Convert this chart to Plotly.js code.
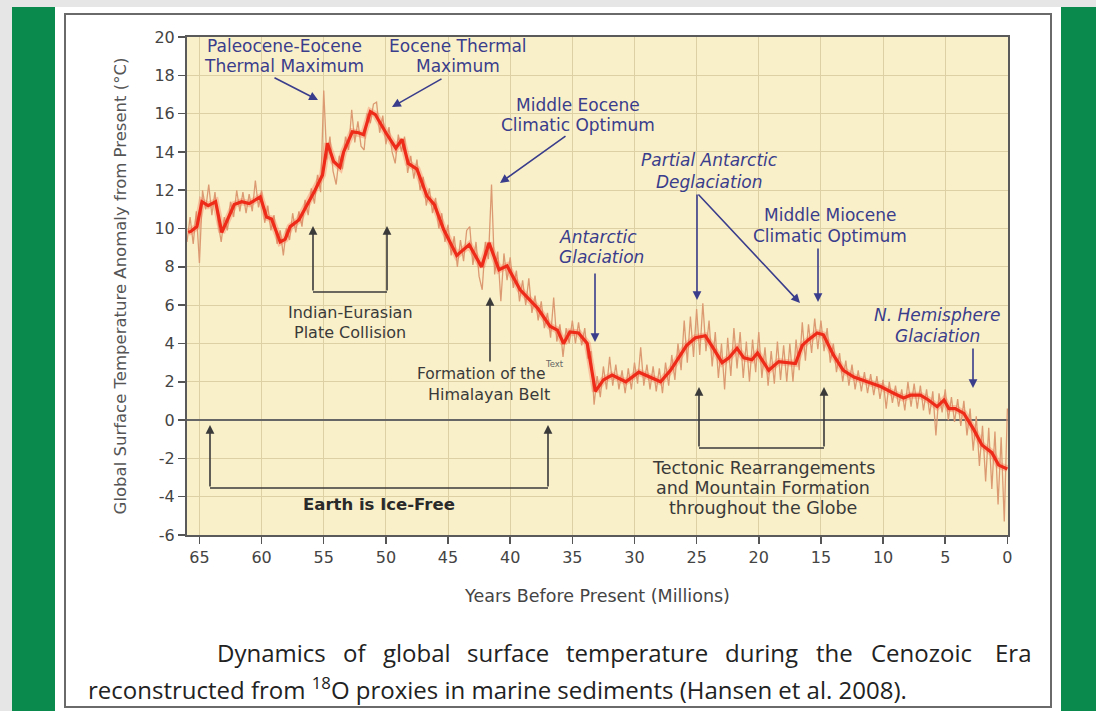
<!DOCTYPE html>
<html>
<head>
<meta charset="utf-8">
<script src="https://cdn.plot.ly/plotly-3.0.1.min.js"></script>
<style>
html,body{margin:0;padding:0;background:#ffffff;overflow:hidden;}
#chart{width:1096px;height:711px;}
</style>
</head>
<body>
<div id="chart"></div>
<script>
// ---------- data ----------
// smoothed curve (thick red line): age in Myr before present, temperature anomaly in °C
const ageSmooth = [65.9,65.7,65.2,64.8,64.3,63.7,63.2,62.2,61.6,61.0,60.1,59.6,59.2,58.5,58.1,57.7,57.0,56.3,55.7,55.1,54.7,54.2,53.7,53.4,52.7,52.2,51.8,51.25,50.85,50.0,49.2,48.7,48.2,47.5,46.7,46.1,45.35,44.3,43.3,42.3,41.7,40.9,40.25,39.2,37.8,36.8,36.2,35.7,35.2,34.5,33.8,33.15,32.5,31.8,30.7,29.65,28.7,27.9,27.1,26.3,25.8,25.1,24.3,23.75,22.95,22.4,21.75,21.2,20.55,20.1,19.2,18.4,17.7,17.05,16.5,16.0,15.3,14.8,14.0,13.2,12.35,11.3,10.2,9.15,8.35,7.8,7.0,6.35,5.65,5.1,4.7,4.2,3.5,2.7,2.05,1.25,0.7,0.0];
const tempSmooth = [9.8,9.85,10.1,11.4,11.2,11.4,9.8,11.25,11.4,11.3,11.65,10.6,10.5,9.3,9.45,10.1,10.45,11.25,12.0,12.8,14.45,13.5,13.2,14.0,15.05,15.0,14.9,16.1,15.95,15.0,14.2,14.65,13.4,13.1,11.7,11.25,9.95,8.6,9.15,8.0,9.25,7.85,8.05,6.8,5.85,4.9,4.7,4.0,4.6,4.55,4.0,1.5,2.1,2.35,2.0,2.5,2.25,2.0,2.6,3.4,3.9,4.3,4.4,3.85,3.0,3.25,3.75,3.25,3.15,3.5,2.6,3.05,3.0,2.95,3.9,4.2,4.55,4.45,3.4,2.6,2.25,2.0,1.75,1.4,1.15,1.3,1.3,1.05,0.7,1.05,0.6,0.6,0.35,-0.5,-1.3,-1.7,-2.35,-2.55];

// raw proxy record (thin tan line)
const ageRaw = [66.0,65.75,65.5,65.25,65.0,64.75,64.5,64.25,64.0,63.75,63.5,63.25,63.0,62.75,62.5,62.25,62.0,61.75,61.5,61.25,61.0,60.75,60.5,60.25,60.0,59.75,59.5,59.25,59.0,58.75,58.5,58.25,58.0,57.75,57.5,57.25,57.0,56.75,56.5,56.25,56.0,55.75,55.5,55.25,55.0,54.75,54.5,54.25,54.0,53.75,53.5,53.25,53.0,52.75,52.5,52.25,52.0,51.75,51.5,51.25,51.0,50.75,50.5,50.25,50.0,49.75,49.5,49.25,49.0,48.75,48.5,48.25,48.0,47.75,47.5,47.25,47.0,46.75,46.5,46.25,46.0,45.75,45.5,45.25,45.0,44.75,44.5,44.25,44.0,43.75,43.5,43.25,43.0,42.75,42.5,42.25,42.0,41.75,41.5,41.25,41.0,40.75,40.5,40.25,40.0,39.75,39.5,39.25,39.0,38.75,38.5,38.25,38.0,37.75,37.5,37.25,37.0,36.75,36.5,36.25,36.0,35.75,35.5,35.25,35.0,34.75,34.5,34.25,34.0,33.75,33.5,33.25,33.0,32.75,32.5,32.25,32.0,31.75,31.5,31.25,31.0,30.75,30.5,30.25,30.0,29.75,29.5,29.25,29.0,28.75,28.5,28.25,28.0,27.75,27.5,27.25,27.0,26.75,26.5,26.25,26.0,25.75,25.5,25.25,25.0,24.75,24.5,24.25,24.0,23.75,23.5,23.25,23.0,22.75,22.5,22.25,22.0,21.75,21.5,21.25,21.0,20.75,20.5,20.25,20.0,19.75,19.5,19.25,19.0,18.75,18.5,18.25,18.0,17.75,17.5,17.25,17.0,16.75,16.5,16.25,16.0,15.75,15.5,15.25,15.0,14.75,14.5,14.25,14.0,13.75,13.5,13.25,13.0,12.75,12.5,12.25,12.0,11.75,11.5,11.25,11.0,10.75,10.5,10.25,10.0,9.75,9.5,9.25,9.0,8.75,8.5,8.25,8.0,7.75,7.5,7.25,7.0,6.75,6.5,6.25,6.0,5.75,5.5,5.25,5.0,4.75,4.5,4.25,4.0,3.75,3.5,3.25,3.0,2.75,2.5,2.25,2.0,1.75,1.5,1.25,1.0,0.75,0.5,0.25,0.0];
const tempRaw = [9.3,10.6,9.2,10.9,8.2,12.0,11.0,12.3,10.7,11.9,10.3,9.3,10.6,9.9,11.4,10.6,12.0,10.9,11.9,10.8,11.8,10.9,12.5,11.1,12.0,10.3,11.2,9.9,10.7,9.2,9.9,8.6,10.0,9.4,10.8,9.8,10.9,10.1,11.5,10.7,12.1,11.3,12.8,11.9,17.2,13.6,14.8,13.0,12.3,13.8,13.1,14.8,14.1,16.2,14.5,15.6,14.3,14.1,16.0,15.5,16.5,16.6,15.0,15.9,14.4,15.3,14.0,13.4,14.9,14.0,14.8,12.9,13.8,12.6,13.6,12.0,12.7,11.2,12.1,10.8,11.6,10.0,10.8,9.3,10.2,8.6,9.6,8.0,9.4,8.3,9.9,10.1,8.1,9.3,7.5,6.8,9.3,8.4,12.3,7.6,8.8,6.2,8.7,7.3,8.5,6.9,7.8,6.2,7.3,6.0,7.4,5.6,6.5,5.2,6.2,4.8,5.6,4.3,6.4,4.1,5.0,3.3,4.8,4.0,5.2,4.0,5.1,3.9,4.8,3.2,3.6,0.8,2.3,1.2,2.8,1.6,3.3,1.8,2.9,1.6,2.6,1.4,2.7,1.6,3.0,1.9,3.8,1.8,2.9,1.6,2.8,1.5,2.7,1.4,3.0,1.8,3.4,2.1,4.0,2.6,5.2,3.0,5.4,3.3,5.8,3.4,6.1,3.6,5.2,2.8,4.6,2.2,4.0,1.6,4.3,2.3,4.8,2.7,4.6,2.2,4.1,2.0,4.2,2.5,4.6,2.2,3.8,1.8,3.6,1.9,4.1,2.1,3.9,2.0,4.0,2.0,4.2,2.6,5.1,3.1,5.0,3.5,5.3,3.7,5.2,3.6,4.8,3.0,4.0,2.5,3.5,2.0,3.1,1.8,2.9,1.6,2.6,1.5,2.5,1.4,2.4,1.3,2.3,1.1,2.1,0.6,2.0,0.9,1.8,0.7,1.6,0.5,2.0,0.7,1.9,0.6,1.8,0.5,1.6,0.3,1.5,-0.8,1.4,0.4,1.6,0.0,1.2,-0.1,1.1,-0.3,1.0,-0.8,0.6,-1.6,0.2,-2.4,-0.3,-3.2,-0.4,-3.6,-0.6,-4.4,-0.9,-5.3,0.6];

const xTickVals = [65,60,55,50,45,40,35,30,25,20,15,10,5,0];
const yTickVals = [-6,-4,-2,0,2,4,6,8,10,12,14,16,18,20];
const xTickText = ['65','60','55','50','45','40','35','30','25','20','15','10','5','0'];
const yTickText = ['-6','-4','-2','0','2','4','6','8','10','12','14','16','18','20'];

// ---------- geometry helpers (pixel -> paper) ----------
const L = 187, R = 1008, T = 37, B = 535;
const W = R - L, H = B - T;
const px = v => (v - L) / W;
const py = v => (B - v) / H;

const FONT = 'DejaVu Sans';
const NAVY = '#3a3d8c';
const DARK = '#3a3a3a';

const annotations = [];
const shapes = [];

function label(text, x, y, opt) {
  opt = opt || {};
  annotations.push({
    xref: 'paper', yref: 'paper', x: px(x), y: py(y), text: text,
    showarrow: false, xanchor: opt.anchor || 'center', yanchor: 'middle',
    font: {family: opt.family || FONT, size: opt.size || 16.5, color: opt.color || DARK}
  });
}
function arrow(tx, ty, sx, sy, color) {
  annotations.push({
    xref: 'paper', yref: 'paper', x: px(tx), y: py(ty), ax: sx - tx, ay: sy - ty,
    text: '', showarrow: true, arrowhead: 2, arrowsize: 1.1, arrowwidth: 1.6,
    arrowcolor: color
  });
}
function seg(x0, y0, x1, y1, color, w) {
  shapes.push({type: 'line', xref: 'paper', yref: 'paper', x0: px(x0), y0: py(y0), x1: px(x1), y1: py(y1),
    line: {color: color, width: w || 1.6}});
}
function rect(x0, y0, x1, y1, fill, lineColor, lw) {
  shapes.push({type: 'rect', xref: 'paper', yref: 'paper', layer: 'below',
    x0: px(x0), y0: py(y0), x1: px(x1), y1: py(y1),
    fillcolor: fill, line: {color: lineColor || 'rgba(0,0,0,0)', width: lw || 0}});
}

// page decoration (slide background)
rect(0, 0, 1096, 7, '#e6e6e6');
rect(0, 7, 12, 711, '#e6e6e6');
rect(12, 7, 55, 711, '#0a8a4c');
rect(1061, 7, 1096, 711, '#0a8a4c');
rect(65, 14, 1051, 707, 'rgba(0,0,0,0)', '#6a6a6a', 2);

// navy event labels
const NS = 17;
label('Paleocene-Eocene', 284, 46, {color: NAVY, size: NS});
label('Thermal Maximum', 284, 66, {color: NAVY, size: NS});
label('Eocene Thermal', 458, 46, {color: NAVY, size: NS});
label('Maximum', 458, 66, {color: NAVY, size: NS});
label('Middle Eocene', 578, 105, {color: NAVY, size: NS});
label('Climatic Optimum', 578, 125, {color: NAVY, size: NS});
label('<i>Partial Antarctic</i>', 709, 160, {color: NAVY, size: NS});
label('<i>Deglaciation</i>', 709, 182, {color: NAVY, size: NS});
label('Middle Miocene', 830, 215, {color: NAVY, size: NS});
label('Climatic Optimum', 830, 236, {color: NAVY, size: NS});
label('<i>Antarctic</i>', 598, 237, {color: NAVY, size: NS});
label('<i>Glaciation</i>', 601, 257, {color: NAVY, size: NS});
label('<i>N. Hemisphere</i>', 937, 315, {color: NAVY, size: NS});
label('<i>Glaciation</i>', 937, 336, {color: NAVY, size: NS});

arrow(318, 100, 273, 77, NAVY);
arrow(392, 107, 443, 78, NAVY);
arrow(500, 183, 567, 135, NAVY);
arrow(697, 300, 697, 193, NAVY);
arrow(800, 303, 697, 193, NAVY);
arrow(818, 302, 818, 247, NAVY);
arrow(595, 342, 595, 272, NAVY);
arrow(973, 388, 973, 347, NAVY);

// black tectonic labels and brackets
label('Indian-Eurasian', 350, 312, {size: 16});
label('Plate Collision', 350, 332, {size: 16});
arrow(313, 226, 313, 292, DARK);
arrow(387, 226, 387, 292, DARK);
seg(313, 292, 387, 292, DARK);

label('Formation of the', 481, 374, {size: 15.5});
label('Himalayan Belt', 489, 394, {size: 16});
label('Text', 554, 364, {size: 8.5, color: '#666666'});
arrow(490, 297, 490, 363, DARK);

label('<b>Earth is Ice-Free</b>', 379, 504, {size: 16.5, color: '#2a2a2a'});
arrow(210, 425, 210, 488, DARK);
arrow(548, 425, 548, 488, DARK);
seg(210, 488, 548, 488, DARK);

label('Tectonic Rearrangements', 763, 468, {size: 17.5});
label('and Mountain Formation', 763, 488, {size: 17.5});
label('throughout the Globe', 763, 508, {size: 17.5});
arrow(699, 387, 699, 448, DARK);
arrow(824, 387, 824, 448, DARK);
seg(699, 448, 824, 448, DARK);

// caption below the chart (first line justified word by word)
const CAP = 'Open Sans';
const CS = 24;
const capWords = [['Dynamics',215],['of',341],['global',381],['surface',465],['temperature',564],['during',723],['the',814],['Cenozoic',869],['Era',993]];
capWords.forEach(w => label(w[0], w[1], 652, {anchor: 'left', family: CAP, size: CS, color: '#222222'}));
label('reconstructed from <sup>18</sup>O proxies in marine sediments (Hansen et al. 2008).', 86, 688,
  {anchor: 'left', family: CAP, size: CS, color: '#222222'});

// ---------- traces ----------
const traces = [
  {x: ageRaw, y: tempRaw, type: 'scatter', mode: 'lines',
   line: {color: '#dc9a72', width: 1.3}, hoverinfo: 'skip'},
  {x: ageSmooth, y: tempSmooth, type: 'scatter', mode: 'lines',
   line: {color: 'rgba(245,110,80,0.35)', width: 7}, hoverinfo: 'skip'},
  {x: ageSmooth, y: tempSmooth, type: 'scatter', mode: 'lines',
   line: {color: '#ee2a18', width: 3.2}, hoverinfo: 'skip'}
];

const layout = {
  width: 1096, height: 711,
  margin: {l: L, r: 1096 - R, t: T, b: 711 - B, pad: 0},
  paper_bgcolor: '#ffffff',
  plot_bgcolor: '#f9f0c9',
  showlegend: false,
  font: {family: FONT, color: '#444444'},
  xaxis: {
    range: [66, -0.05], tickmode: 'array', tickvals: xTickVals, ticktext: xTickText,
    ticks: 'outside', ticklen: 7, tickwidth: 1.5, tickcolor: '#555555',
    tickfont: {family: FONT, size: 16, color: '#444444'},
    showgrid: true, gridcolor: '#ddd0a4', gridwidth: 1,
    showline: true, linecolor: '#5a5a5a', linewidth: 2, mirror: true,
    zeroline: false,
    title: {text: 'Years Before Present (Millions)', standoff: 24,
      font: {family: FONT, size: 17.5, color: '#444444'}}
  },
  yaxis: {
    range: [-6, 20], tickmode: 'array', tickvals: yTickVals, ticktext: yTickText,
    ticks: 'outside', ticklen: 7, tickwidth: 1.5, tickcolor: '#555555',
    tickfont: {family: FONT, size: 16, color: '#444444'},
    showgrid: true, gridcolor: '#ddd0a4', gridwidth: 1,
    showline: true, linecolor: '#5a5a5a', linewidth: 2, mirror: true,
    zeroline: true, zerolinecolor: '#666666', zerolinewidth: 1.5,
    title: {text: 'Global Surface Temperature Anomaly from Present (°C)', standoff: 24,
      font: {family: FONT, size: 16.5, color: '#555555'}}
  },
  annotations: annotations,
  shapes: shapes
};

Plotly.newPlot('chart', traces, layout, {displayModeBar: false, staticPlot: true});
</script>
</body>
</html>
